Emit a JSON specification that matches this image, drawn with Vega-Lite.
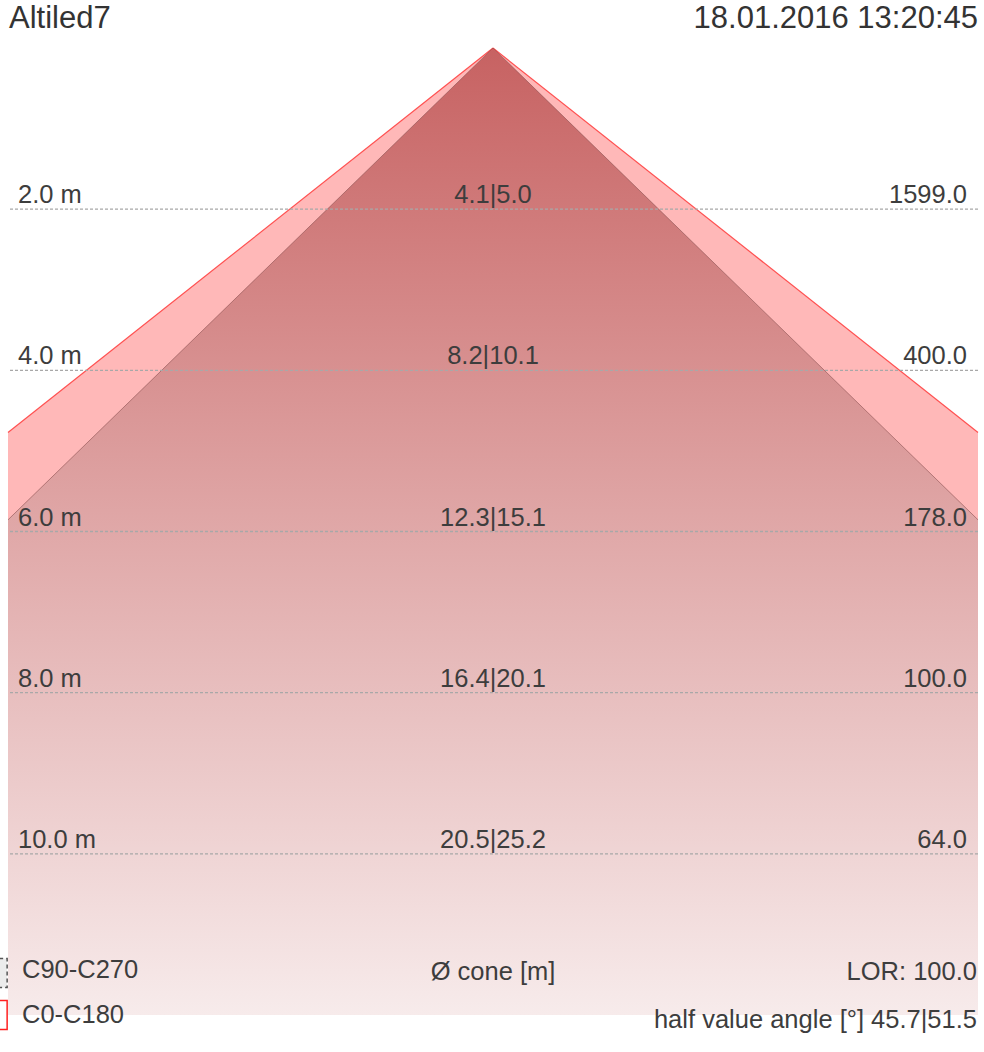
{
  "$schema": "https://vega.github.io/schema/vega-lite/v6.json",
  "width": 970,
  "height": 967,
  "autosize": {"type": "none"},
  "padding": {"left": 8, "top": 48, "right": 6, "bottom": 37},
  "background": "white",
  "config": {"view": {"stroke": null}, "text": {"font": "Liberation Sans", "fontSize": 25.5, "color": "#3d3d3d"}},
  "datasets": {
    "cones": [
      {"cone": "C0-C180", "d": 0, "left": 0, "right": 0},
      {"cone": "C0-C180", "d": 4.772, "left": -6, "right": 6},
      {"cone": "C0-C180", "d": 12, "left": -6, "right": 6},
      {"cone": "C90-C270", "d": 0, "left": 0, "right": 0},
      {"cone": "C90-C270", "d": 5.855, "left": -6, "right": 6},
      {"cone": "C90-C270", "d": 12, "left": -6, "right": 6}
    ],
    "levels": [
      {"d": 2, "label": "2.0 m", "dia": "4.1|5.0", "lux": "1599.0"},
      {"d": 4, "label": "4.0 m", "dia": "8.2|10.1", "lux": "400.0"},
      {"d": 6, "label": "6.0 m", "dia": "12.3|15.1", "lux": "178.0"},
      {"d": 8, "label": "8.0 m", "dia": "16.4|20.1", "lux": "100.0"},
      {"d": 10, "label": "10.0 m", "dia": "20.5|25.2", "lux": "64.0"}
    ],
    "one": [{"k": 1}]
  },
  "layer": [
    {
      "data": {"name": "cones"},
      "transform": [{"filter": "datum.cone == 'C0-C180'"}],
      "mark": {"type": "area", "orient": "horizontal", "color": "#ff0000", "opacity": 0.28},
      "encoding": {
        "y": {"field": "d", "type": "quantitative", "scale": {"domain": [0, 12], "reverse": true}, "axis": null},
        "x": {"field": "left", "type": "quantitative", "scale": {"domain": [-6, 6]}, "axis": null},
        "x2": {"field": "right"}
      }
    },
    {
      "data": {"name": "cones"},
      "transform": [{"filter": "datum.cone == 'C90-C270'"}],
      "mark": {"type": "area", "orient": "horizontal",
        "color": {"gradient": "linear", "x1": 0, "y1": 0, "x2": 0, "y2": 1,
          "stops": [{"offset": 0, "color": "#c76262"}, {"offset": 0.5, "color": "#e0a8a8"}, {"offset": 1, "color": "#f7ebeb"}]}},
      "encoding": {
        "y": {"field": "d", "type": "quantitative"},
        "x": {"field": "left", "type": "quantitative"},
        "x2": {"field": "right"}
      }
    },
    {
      "data": {"name": "cones"},
      "transform": [{"filter": "datum.cone == 'C0-C180' && datum.d < 12"}, {"fold": ["left", "right"], "as": ["side", "xv"]}],
      "mark": {"type": "line", "color": "#ff5050", "strokeWidth": 1.2},
      "encoding": {
        "y": {"field": "d", "type": "quantitative"},
        "x": {"field": "xv", "type": "quantitative"},
        "detail": {"field": "side"},
        "order": {"field": "d"}
      }
    },
    {
      "data": {"name": "cones"},
      "transform": [{"filter": "datum.cone == 'C90-C270' && datum.d < 12"}, {"fold": ["left", "right"], "as": ["side", "xv"]}],
      "mark": {"type": "line", "color": "#8a5050", "strokeWidth": 1, "opacity": 0.6},
      "encoding": {
        "y": {"field": "d", "type": "quantitative"},
        "x": {"field": "xv", "type": "quantitative"},
        "detail": {"field": "side"},
        "order": {"field": "d"}
      }
    },
    {
      "data": {"name": "levels"},
      "mark": {"type": "rule", "color": "#a8a8a8", "strokeWidth": 1.3, "strokeDash": [3, 2]},
      "encoding": {"y": {"field": "d", "type": "quantitative"}}
    },
    {
      "data": {"name": "levels"},
      "mark": {"type": "text", "align": "left", "baseline": "alphabetic", "dx": 10, "dy": -6},
      "encoding": {"y": {"field": "d", "type": "quantitative"}, "x": {"datum": -6}, "text": {"field": "label"}}
    },
    {
      "data": {"name": "levels"},
      "mark": {"type": "text", "align": "center", "baseline": "alphabetic", "dy": -6},
      "encoding": {"y": {"field": "d", "type": "quantitative"}, "x": {"datum": 0}, "text": {"field": "dia"}}
    },
    {
      "data": {"name": "levels"},
      "mark": {"type": "text", "align": "right", "baseline": "alphabetic", "dx": -11, "dy": -6},
      "encoding": {"y": {"field": "d", "type": "quantitative"}, "x": {"datum": 6}, "text": {"field": "lux"}}
    },
    {
      "data": {"name": "one"},
      "mark": {"type": "text", "align": "left", "baseline": "alphabetic", "fontSize": 31, "color": "#333333", "dx": 1, "dy": -20},
      "encoding": {"x": {"datum": -6}, "y": {"datum": 0}, "text": {"value": "Altiled7"}}
    },
    {
      "data": {"name": "one"},
      "mark": {"type": "text", "align": "right", "baseline": "alphabetic", "fontSize": 31, "color": "#333333", "dy": -20},
      "encoding": {"x": {"datum": 6}, "y": {"datum": 0}, "text": {"value": "18.01.2016 13:20:45"}}
    },
    {
      "data": {"name": "one"},
      "mark": {"type": "point", "shape": "square", "size": 840, "filled": true, "fill": "#ececec", "stroke": "#555555", "strokeWidth": 1.5, "strokeDash": [4, 3], "opacity": 1},
      "encoding": {"x": {"datum": -6.19}, "y": {"datum": 11.48}}
    },
    {
      "data": {"name": "one"},
      "mark": {"type": "point", "shape": "square", "size": 840, "filled": true, "fill": "#ffffff", "stroke": "#ff2020", "strokeWidth": 1.5, "opacity": 1},
      "encoding": {"x": {"datum": -6.19}, "y": {"datum": 12.0}}
    },
    {
      "data": {"name": "one"},
      "mark": {"type": "text", "align": "left", "baseline": "alphabetic", "dx": 14, "dy": -37},
      "encoding": {"x": {"datum": -6}, "y": {"datum": 12}, "text": {"value": "C90-C270"}}
    },
    {
      "data": {"name": "one"},
      "mark": {"type": "text", "align": "left", "baseline": "alphabetic", "dx": 14, "dy": 8},
      "encoding": {"x": {"datum": -6}, "y": {"datum": 12}, "text": {"value": "C0-C180"}}
    },
    {
      "data": {"name": "one"},
      "mark": {"type": "text", "align": "center", "baseline": "alphabetic", "dy": -35},
      "encoding": {"x": {"datum": 0}, "y": {"datum": 12}, "text": {"value": "Ø cone [m]"}}
    },
    {
      "data": {"name": "one"},
      "mark": {"type": "text", "align": "right", "baseline": "alphabetic", "dx": -1, "dy": -35},
      "encoding": {"x": {"datum": 6}, "y": {"datum": 12}, "text": {"value": "LOR: 100.0"}}
    },
    {
      "data": {"name": "one"},
      "mark": {"type": "text", "align": "right", "baseline": "alphabetic", "dx": -1, "dy": 13},
      "encoding": {"x": {"datum": 6}, "y": {"datum": 12}, "text": {"value": "half value angle [°] 45.7|51.5"}}
    }
  ]
}
